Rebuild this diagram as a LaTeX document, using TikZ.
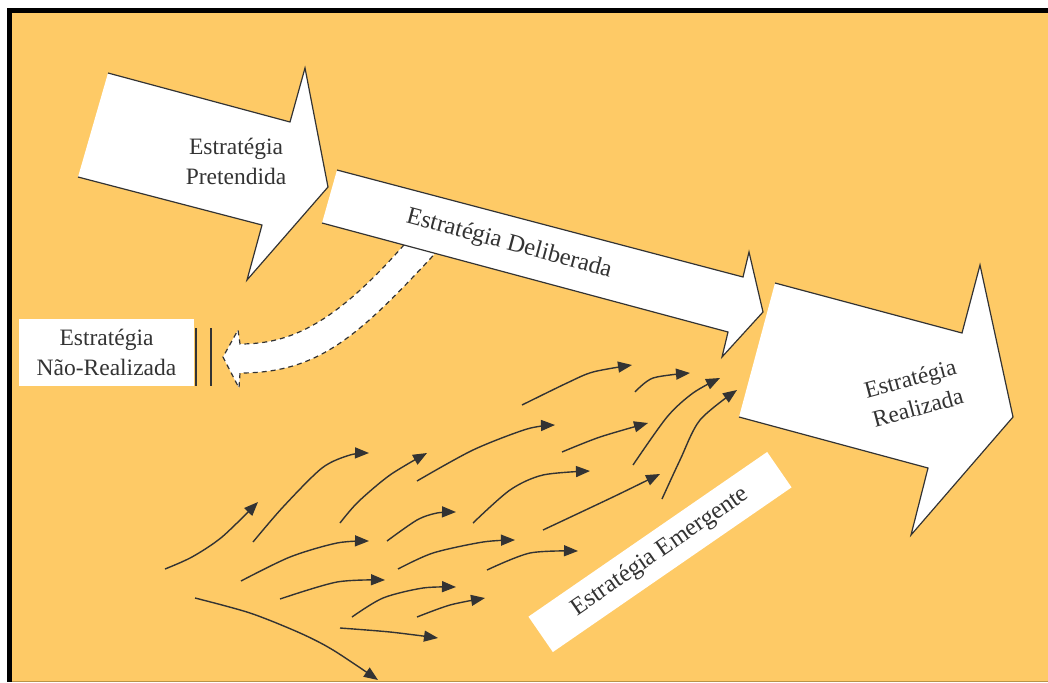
\documentclass[tikz,border=0pt]{standalone}
\usepackage{fontspec}
\setmainfont{Liberation Serif}
\usetikzlibrary{arrows.meta}
\definecolor{paper}{RGB}{254,202,102}
\definecolor{ink}{RGB}{51,51,51}
\definecolor{rim}{RGB}{186,148,72}
\begin{document}
\begin{tikzpicture}[x=1pt,y=-1pt,
  outline/.style={draw=ink,line width=1.2pt,line join=miter},
  dashline/.style={draw=ink,line width=1.2pt,dash pattern=on 5pt off 4pt},
  label/.style={text=ink,font=\fontsize{23.5}{30}\selectfont,align=center,inner sep=0pt},
  biglabel/.style={label,font=\fontsize{24.5}{30}\selectfont},
  flow/.style={draw=ink,line width=1.4pt,-{Triangle[length=14pt,width=11pt]}},
  bar/.style={draw=ink,line width=2pt},
]
\useasboundingbox (0,0) rectangle (1048,682);
% frame and background
\fill[black] (7,8) rectangle (1048,682);
\fill[paper] (12,13) rectangle (1048,682);
\draw[rim,line width=1pt] (12,681.5) -- (1048,681.5);

% curved branch towards the unrealized strategy
\fill[white] (410,238) .. controls (335,325) and (290,344) .. (240,344)
  -- (238,330) -- (223,357) -- (239,388) -- (240,373)
  .. controls (320,373) and (360,335) .. (442,246) -- cycle;
\draw[dashline] (410,238) .. controls (335,325) and (290,344) .. (240,344)
  -- (238,330) -- (223,357) -- (239,388) -- (240,373)
  .. controls (320,373) and (360,335) .. (442,246);

% intended strategy arrow
\fill[white] (108,73) -- (290,122) -- (305,68) -- (328,187) -- (247,280) -- (262,225) -- (78,177) -- cycle;
\draw[outline] (108,73) -- (290,122) -- (305,68) -- (328,187) -- (247,280) -- (262,225) -- (78,177);

% deliberate strategy arrow
\fill[white] (337,170) -- (743,277) -- (749,252) -- (763,312) -- (722,357) -- (728,332) -- (322,223) -- cycle;
\draw[outline] (337,170) -- (743,277) -- (749,252) -- (763,312) -- (722,357) -- (728,332) -- (322,223);

% realized strategy arrow
\fill[white] (775,283) -- (962,333) -- (980,265) -- (1013,417) -- (911,535) -- (928,468) -- (739,417) -- cycle;
\draw[outline] (775,283) -- (962,333) -- (980,265) -- (1013,417) -- (911,535) -- (928,468) -- (739,417);

% labels
\node[label] (pret) at (236,161) {Estratégia\\Pretendida};
\node[biglabel,rotate=-15] (delib) at (509,244) {Estratégia Deliberada};
\node[label,rotate=15] (real) at (914,393) {Estratégia\\Realizada};
\node[label,fill=white,minimum width=175pt,minimum height=67pt] (naor) at (106.5,352.5) {Estratégia\\Não-Realizada};
\node[biglabel,fill=white,rotate=34.6,minimum width=290pt,minimum height=43pt] (emerg) at (660,552) {Estratégia Emergente};

% barrier
\draw[bar] (196,328) -- (196,386);
\draw[bar] (211,328) -- (211,386);

% emergent strands
\draw[flow] plot[smooth] coordinates {(165,569) (192,557) (222,537) (258,502)};
\draw[flow] plot[smooth] coordinates {(253,542) (283,507) (322,468) (350,455) (369,453)};
\draw[flow] plot[smooth] coordinates {(340,523) (358,502) (390,475) (427,453)};
\draw[flow] plot[smooth] coordinates {(417,481) (473,450) (527,429) (555,425)};
\draw[flow] plot[smooth] coordinates {(522,405) (567,383) (593,372) (632,365)};
\draw[flow] plot[smooth] coordinates {(635,392) (653,378) (690,373)};
\draw[flow] plot[smooth] coordinates {(633,465) (667,417) (693,393) (720,378)};
\draw[flow] plot[smooth] coordinates {(662,499) (680,460) (700,420) (737,390)};
\draw[flow] plot[smooth] coordinates {(562,452) (600,437) (648,423)};
\draw[flow] plot[smooth] coordinates {(473,523) (510,490) (543,475) (590,471)};
\draw[flow] plot[smooth] coordinates {(543,530) (613,497) (660,474)};
\draw[flow] plot[smooth] coordinates {(387,541) (417,520) (437,513) (456,512)};
\draw[flow] plot[smooth] coordinates {(241,581) (290,557) (337,543) (369,541)};
\draw[flow] plot[smooth] coordinates {(280,599) (337,582) (385,580)};
\draw[flow] plot[smooth] coordinates {(398,569) (433,553) (483,542) (515,540)};
\draw[flow] plot[smooth] coordinates {(487,570) (530,553) (578,551)};
\draw[flow] plot[smooth] coordinates {(352,617) (383,598) (423,588) (456,587)};
\draw[flow] plot[smooth] coordinates {(417,617) (450,605) (485,598)};
\draw[flow] plot[smooth] coordinates {(340,628) (390,632) (438,638)};
\draw[flow] plot[smooth] coordinates {(195,598) (250,613) (300,633) (333,650) (378,680)};
\end{tikzpicture}
\end{document}
